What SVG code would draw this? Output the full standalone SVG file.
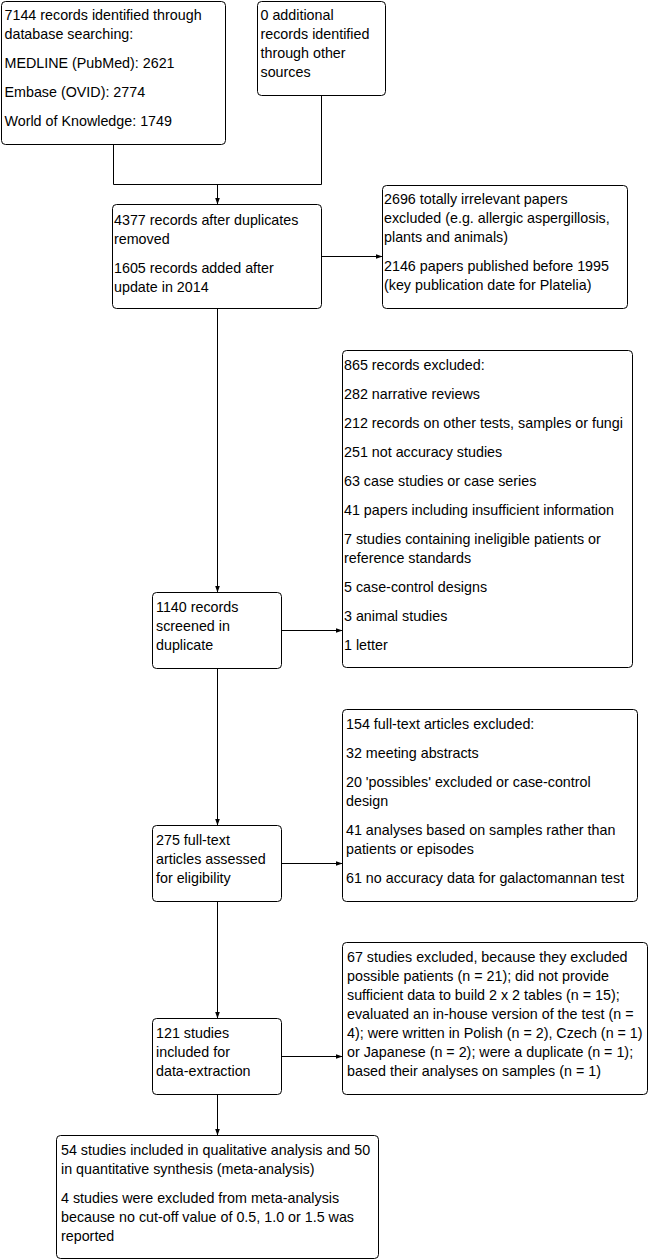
<svg xmlns="http://www.w3.org/2000/svg" width="649" height="1260" viewBox="0 0 649 1260">
<defs>
<style>
.box{fill:#fff;stroke:#000;stroke-width:1}
.t{font-family:"Liberation Sans",Arial,sans-serif;font-size:14.3px;fill:#000}
.c{fill:none;stroke:#000;stroke-width:1}
.a{marker-end:url(#ah)}
</style>
<marker id="ah" markerUnits="userSpaceOnUse" markerWidth="7" markerHeight="6" refX="7" refY="3" orient="auto">
<path d="M0,0.5 L7,3 L0,5.5 z" fill="#000"/>
</marker>
</defs>
<rect width="649" height="1260" fill="#fff"/>
<g id="connectors">
<path class="c" d="M113.5,144.5 V184.5 H321.5 V95.5"/>
<path class="c a" d="M217.5,184.5 V204.5"/>
<path class="c a" d="M321.5,256.5 H382.5"/>
<path class="c a" d="M217.5,308.5 V592.5"/>
<path class="c a" d="M281.5,630.5 H342.5"/>
<path class="c a" d="M217.5,668.5 V825.5"/>
<path class="c a" d="M281.5,863.5 H342.5"/>
<path class="c a" d="M217.5,901.5 V1018.5"/>
<path class="c a" d="M281.5,1056.5 H342.5"/>
<path class="c a" d="M217.5,1094.5 V1135.5"/>
</g>
<g id="n1">
<rect class="box" x="1.5" y="1.5" width="224" height="143" rx="4"/>
<text class="t" x="4.5" y="20">7144 records identified through</text>
<text class="t" x="4.5" y="39">database searching:</text>
<text class="t" x="4.5" y="68">MEDLINE (PubMed): 2621</text>
<text class="t" x="4.5" y="97">Embase (OVID): 2774</text>
<text class="t" x="4.5" y="126">World of Knowledge: 1749</text>
</g>
<g id="n2">
<rect class="box" x="257.5" y="1.5" width="128" height="94" rx="4"/>
<text class="t" x="260.5" y="20">0 additional</text>
<text class="t" x="260.5" y="39">records identified</text>
<text class="t" x="260.5" y="58">through other</text>
<text class="t" x="260.5" y="77">sources</text>
</g>
<g id="n3">
<rect class="box" x="112.5" y="204.5" width="209" height="104" rx="4"/>
<text class="t" x="114" y="225">4377 records after duplicates</text>
<text class="t" x="114" y="244">removed</text>
<text class="t" x="114" y="273">1605 records added after</text>
<text class="t" x="114" y="292">update in 2014</text>
</g>
<g id="n4">
<rect class="box" x="382.5" y="185.5" width="245" height="123" rx="4"/>
<text class="t" x="384" y="204">2696 totally irrelevant papers</text>
<text class="t" x="384" y="223">excluded (e.g. allergic aspergillosis,</text>
<text class="t" x="384" y="242">plants and animals)</text>
<text class="t" x="384" y="271">2146 papers published before 1995</text>
<text class="t" x="384" y="290">(key publication date for Platelia)</text>
</g>
<g id="n5">
<rect class="box" x="342.5" y="350.5" width="290" height="317" rx="4"/>
<text class="t" x="344" y="370">865 records excluded:</text>
<text class="t" x="344" y="399">282 narrative reviews</text>
<text class="t" x="344" y="428">212 records on other tests, samples or fungi</text>
<text class="t" x="344" y="457">251 not accuracy studies</text>
<text class="t" x="344" y="486">63 case studies or case series</text>
<text class="t" x="344" y="515">41 papers including insufficient information</text>
<text class="t" x="344" y="544">7 studies containing ineligible patients or</text>
<text class="t" x="344" y="563">reference standards</text>
<text class="t" x="344" y="592">5 case-control designs</text>
<text class="t" x="344" y="621">3 animal studies</text>
<text class="t" x="344" y="650">1 letter</text>
</g>
<g id="n6">
<rect class="box" x="152.5" y="592.5" width="129" height="76" rx="4"/>
<text class="t" x="156" y="612">1140 records</text>
<text class="t" x="156" y="631">screened in</text>
<text class="t" x="156" y="650">duplicate</text>
</g>
<g id="n7">
<rect class="box" x="152.5" y="825.5" width="129" height="76" rx="4"/>
<text class="t" x="156" y="845">275 full-text</text>
<text class="t" x="156" y="864">articles assessed</text>
<text class="t" x="156" y="883">for eligibility</text>
</g>
<g id="n8">
<rect class="box" x="342.5" y="709.5" width="295" height="192" rx="4"/>
<text class="t" x="346" y="729">154 full-text articles excluded:</text>
<text class="t" x="346" y="758">32 meeting abstracts</text>
<text class="t" x="346" y="787">20 'possibles' excluded or case-control</text>
<text class="t" x="346" y="806">design</text>
<text class="t" x="346" y="835">41 analyses based on samples rather than</text>
<text class="t" x="346" y="854">patients or episodes</text>
<text class="t" x="346" y="883">61 no accuracy data for galactomannan test</text>
</g>
<g id="n9">
<rect class="box" x="152.5" y="1018.5" width="129" height="76" rx="4"/>
<text class="t" x="156" y="1038">121 studies</text>
<text class="t" x="156" y="1057">included for</text>
<text class="t" x="156" y="1076">data-extraction</text>
</g>
<g id="n10">
<rect class="box" x="342.5" y="942.5" width="305" height="152" rx="4"/>
<text class="t" x="347" y="962">67 studies excluded, because they excluded</text>
<text class="t" x="347" y="981">possible patients (n = 21); did not provide</text>
<text class="t" x="347" y="1000">sufficient data to build 2 x 2 tables (n = 15);</text>
<text class="t" x="347" y="1019">evaluated an in-house version of the test (n =</text>
<text class="t" x="347" y="1038">4); were written in Polish (n = 2), Czech (n = 1)</text>
<text class="t" x="347" y="1057">or Japanese (n = 2); were a duplicate (n = 1);</text>
<text class="t" x="347" y="1076">based their analyses on samples (n = 1)</text>
</g>
<g id="n11">
<rect class="box" x="56.5" y="1135.5" width="322" height="123" rx="4"/>
<text class="t" x="61" y="1155">54 studies included in qualitative analysis and 50</text>
<text class="t" x="61" y="1174">in quantitative synthesis (meta-analysis)</text>
<text class="t" x="61" y="1203">4 studies were excluded from meta-analysis</text>
<text class="t" x="61" y="1222">because no cut-off value of 0.5, 1.0 or 1.5 was</text>
<text class="t" x="61" y="1241">reported</text>
</g>
</svg>
